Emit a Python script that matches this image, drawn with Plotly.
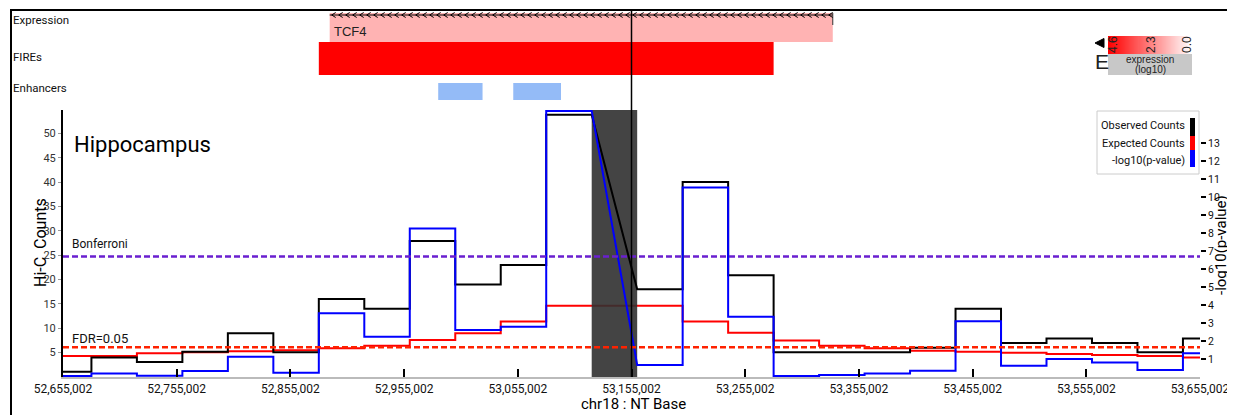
import numpy as np
import plotly.graph_objects as go

# ---------------- data ----------------
BIN_SIZE = 40000
bin_starts = [52640000, 52680000, 52720000, 52760000, 52800000, 52840000, 52880000,
              52920000, 52960000, 53000000, 53040000, 53080000, 53120000, 53160000,
              53200000, 53240000, 53280000, 53320000, 53360000, 53400000, 53440000,
              53480000, 53520000, 53560000, 53600000, 53640000]
observed = [1.1, 4.0, 3.1, 5.2, 9.0, 5.1, 16.0, 14.0, 27.9, 19.0, 23.0, 53.8, None,
            18.0, 40.0, 20.9, 5.1, 5.1, 5.1, 6.0, 14.0, 7.0, 7.9, 7.0, 5.1, 7.9]
expected = [4.3, 4.3, 4.9, 5.1, 5.3, 5.5, 5.9, 6.4, 7.6, 9.0, 11.4, 14.6, 14.6,
            14.6, 11.4, 9.1, 7.5, 6.4, 5.9, 5.4, 5.2, 5.0, 4.7, 4.5, 4.3, 4.0]
neg_log10_p = [0.05, 0.2, 0.07, 0.33, 1.13, 0.24, 3.54, 2.24, 8.26, 2.61, 2.8, 14.8, None,
               0.67, 10.54, 3.35, 0.06, 0.11, 0.2, 0.35, 3.1, 0.63, 1.0, 0.8, 0.39, 1.32]
anchor_bin = [53120000, 53160000]
focus_position = 53155002
bonferroni_threshold = 6.7
fdr_threshold = 1.65

x_ticks = [52655002, 52755002, 52855002, 52955002, 53055002, 53155002,
           53255002, 53355002, 53455002, 53555002, 53655002]
left_ticks = [5, 10, 15, 20, 25, 30, 35, 40, 45, 50]
right_ticks = list(range(1, 14))

gene_name = "TCF4"
gene_span = [52889562, 53332018]
fire_span = [52880000, 53280000]
enhancers = [[52985000, 53024000], [53051000, 53093000]]
expr_scale_labels = ["4.6", "2.3", "0.0"]
expr_scale_max = 4.6

X_RANGE = [52655002, 53655002]
Y_LEFT_MAX = 54.8
Y_RIGHT_MAX = 14.85

# ---------------- layout helpers (page pixel -> paper) ----------------
OFF = 8                      # page body margin
W, H = 1235 - OFF, 415 - OFF
PLOT_L, PLOT_R, PLOT_B = 63, 1200, 377   # page pixels of plot area
ML = PLOT_L - OFF
MR = W - (PLOT_R - OFF)
MB = H - (PLOT_B - OFF)
PLOT_W = PLOT_R - PLOT_L
PAPER_H = PLOT_B - OFF


def px(p):
    return (p - PLOT_L) / PLOT_W


def py(p):
    return (PLOT_B - p) / PAPER_H


MAIN_TOP = py(110)

NARROW = "Liberation Sans Narrow, Roboto, sans-serif"
SANS = "Liberation Sans, Arial, sans-serif"


def steps(vals):
    xs, ys = [], []
    for s, v in zip(bin_starts, vals):
        if v is None:
            continue
        xs += [s, s + BIN_SIZE]
        ys += [v, v]
    return xs, ys


fig = go.Figure()

ex, ey = steps(expected)
fig.add_trace(go.Scatter(x=ex, y=ey, mode="lines", line=dict(color="#ff0000", width=2),
                         yaxis="y", showlegend=False, hoverinfo="skip"))
fig.add_trace(go.Scatter(x=[anchor_bin[0], anchor_bin[1], anchor_bin[1], anchor_bin[0], anchor_bin[0]],
                         y=[0, 0, Y_LEFT_MAX, Y_LEFT_MAX, 0], mode="lines", fill="toself",
                         fillcolor="rgba(48,48,48,0.9)", line=dict(width=0),
                         yaxis="y", showlegend=False, hoverinfo="skip"))
ox, oy = steps(observed)
fig.add_trace(go.Scatter(x=ox, y=oy, mode="lines", line=dict(color="#000000", width=2),
                         yaxis="y", showlegend=False, hoverinfo="skip"))
bx, by = steps(neg_log10_p)
fig.add_trace(go.Scatter(x=bx, y=by, mode="lines", line=dict(color="#0000ff", width=2),
                         yaxis="y2", showlegend=False, hoverinfo="skip"))
fig.add_trace(go.Scatter(x=X_RANGE, y=[bonferroni_threshold] * 2, mode="lines",
                         line=dict(color="#6a1fd0", width=2.5, dash="6px,3px"),
                         yaxis="y2", showlegend=False, hoverinfo="skip"))
fig.add_trace(go.Scatter(x=X_RANGE, y=[fdr_threshold] * 2, mode="lines",
                         line=dict(color="#ff2200", width=2.5, dash="6px,3px"),
                         yaxis="y2", showlegend=False, hoverinfo="skip"))

# expression colour scale (legend gradient)
grad = np.linspace(expr_scale_max, 0, 80)
fig.add_trace(go.Heatmap(z=[grad], x=list(range(len(grad))), y=[0],
                         colorscale=[[0, "#ffffff"], [1, "#ff0000"]], zmin=0, zmax=expr_scale_max,
                         showscale=False, xaxis="x3", yaxis="y3", hoverinfo="skip"))

shapes = []
annotations = []

# outer frame
shapes.append(dict(type="rect", xref="paper", yref="paper", x0=px(11), x1=px(1230),
                   y0=py(440), y1=py(10), line=dict(color="black", width=2)))

# gene track
shapes.append(dict(type="rect", xref="x", yref="paper", x0=gene_span[0], x1=gene_span[1],
                   y0=py(42), y1=py(13), fillcolor="#ffb3b3", line=dict(width=0), layer="below"))
shapes.append(dict(type="line", xref="x", yref="paper", x0=gene_span[0], x1=gene_span[1],
                   y0=py(15), y1=py(15), line=dict(color="black", width=1)))
shapes.append(dict(type="line", xref="x", yref="paper", x0=gene_span[1], x1=gene_span[1],
                   y0=py(13), y1=py(25), line=dict(color="#333333", width=1)))
bp_per_px = (X_RANGE[1] - X_RANGE[0]) / PLOT_W
path = ""
c = gene_span[0] + 2 * bp_per_px
while c + 4 * bp_per_px < gene_span[1]:
    path += "M{:.0f},{:.5f} L{:.0f},{:.5f} L{:.0f},{:.5f} ".format(
        c + 4 * bp_per_px, py(12.5), c, py(15), c + 4 * bp_per_px, py(17.5))
    c += 7 * bp_per_px
shapes.append(dict(type="path", xref="x", yref="paper", path=path,
                   line=dict(color="black", width=1)))
annotations.append(dict(x=gene_span[0] + 2 * bp_per_px, y=py(31), xref="x", yref="paper",
                        text=gene_name, showarrow=False, xanchor="left", yanchor="middle",
                        font=dict(family=SANS, size=13, color="#222222")))

# FIREs
shapes.append(dict(type="rect", xref="x", yref="paper", x0=fire_span[0], x1=fire_span[1],
                   y0=py(75), y1=py(42), fillcolor="#ff0000", line=dict(width=0)))
# enhancers
for e0, e1 in enhancers:
    shapes.append(dict(type="rect", xref="x", yref="paper", x0=e0, x1=e1,
                       y0=py(100), y1=py(83), fillcolor="#94bbf7", line=dict(width=0)))

# focus line
shapes.append(dict(type="line", xref="x", yref="paper", x0=focus_position, x1=focus_position,
                   y0=0, y1=py(11), line=dict(color="black", width=1.5), layer="above"))

for txt, yy in [("Expression", 20), ("FIREs", 57), ("Enhancers", 88)]:
    annotations.append(dict(x=px(11), y=py(yy), xref="paper", yref="paper", text=txt,
                            showarrow=False, xanchor="left", yanchor="middle",
                            font=dict(family=NARROW, size=11.5, color="#111111")))

# expression scale box
shapes.append(dict(type="rect", xref="paper", yref="paper", x0=px(1108), x1=px(1192),
                   y0=py(75), y1=py(54), fillcolor="#c8c8c8", line=dict(width=0)))
shapes.append(dict(type="path", xref="paper", yref="paper",
                   path="M{},{} L{},{} L{},{} Z".format(px(1095), py(43), px(1104), py(38.5), px(1104), py(47.5)),
                   fillcolor="black", line=dict(color="black", width=1)))
annotations.append(dict(x=px(1102), y=py(61), xref="paper", yref="paper", text="E",
                        showarrow=False, xanchor="center", yanchor="middle",
                        font=dict(family=SANS, size=21, color="#222222")))
for lab, xx in zip(expr_scale_labels, [1113, 1151, 1187]):
    annotations.append(dict(x=px(xx), y=py(45), xref="paper", yref="paper", text=lab,
                            showarrow=False, textangle=-90, xanchor="center", yanchor="middle",
                            font=dict(family=SANS, size=12, color="#222222")))
annotations.append(dict(x=px(1150), y=py(60), xref="paper", yref="paper", text="expression",
                        showarrow=False, xanchor="center", yanchor="middle",
                        font=dict(family=SANS, size=10, color="#222222")))
annotations.append(dict(x=px(1150), y=py(69.5), xref="paper", yref="paper", text="(log10)",
                        showarrow=False, xanchor="center", yanchor="middle",
                        font=dict(family=SANS, size=10, color="#222222")))

# legend box
shapes.append(dict(type="rect", xref="paper", yref="paper", x0=px(1097), x1=px(1199),
                   y0=py(174), y1=py(111), fillcolor="white", line=dict(color="#cccccc", width=1)))
for txt, yy, col, s0, s1 in [("Observed Counts", 126, "#000000", 118, 136),
                             ("Expected Counts", 143.5, "#ff0000", 136, 150),
                             ("-log10(p-value)", 160.5, "#0000ff", 150, 167)]:
    annotations.append(dict(x=px(1187), y=py(yy), xref="paper", yref="paper", text=txt,
                            showarrow=False, xanchor="right", yanchor="middle",
                            font=dict(family=NARROW, size=11, color="#111111")))
    shapes.append(dict(type="rect", xref="paper", yref="paper", x0=px(1190), x1=px(1195),
                       y0=py(s1), y1=py(s0), fillcolor=col, line=dict(width=0)))

# in-plot texts
annotations.append(dict(x=px(72), y=py(144), xref="paper", yref="paper", text="Hippocampus",
                        showarrow=False, xanchor="left", yanchor="middle",
                        font=dict(family=NARROW, size=22, color="#000000")))
annotations.append(dict(x=px(70), y=py(244), xref="paper", yref="paper", text="Bonferroni",
                        showarrow=False, xanchor="left", yanchor="middle",
                        font=dict(family=NARROW, size=12, color="#111111")))
annotations.append(dict(x=px(70), y=py(338), xref="paper", yref="paper", text="FDR=0.05",
                        showarrow=False, xanchor="left", yanchor="middle",
                        font=dict(family=NARROW, size=13, color="#111111")))

# axis titles
annotations.append(dict(x=px(40), y=py(243), xref="paper", yref="paper", text="Hi-C  Counts",
                        showarrow=False, textangle=-90, xanchor="center", yanchor="middle",
                        font=dict(family=NARROW, size=16, color="#000000")))
annotations.append(dict(x=px(1221), y=py(245), xref="paper", yref="paper", text="-log10(p-value)",
                        showarrow=False, textangle=-90, xanchor="center", yanchor="middle",
                        font=dict(family=NARROW, size=15, color="#000000")))
annotations.append(dict(x=px(633), y=py(404), xref="paper", yref="paper", text="chr18 : NT Base",
                        showarrow=False, xanchor="center", yanchor="middle",
                        font=dict(family=NARROW, size=15, color="#000000")))

fig.update_layout(
    width=W, height=H,
    margin=dict(l=ML, r=MR, t=0, b=MB, pad=0),
    paper_bgcolor="white", plot_bgcolor="white",
    showlegend=False,
    xaxis=dict(range=X_RANGE, showgrid=False, zeroline=False, showline=True,
               linecolor="#bbbbbb", linewidth=1.5, ticks="inside", ticklen=8, tickwidth=2,
               tickcolor="black", tickvals=x_ticks, ticktext=[f"{v:,}" for v in x_ticks],
               tickfont=dict(family=NARROW, size=12, color="#111111"), anchor="y"),
    yaxis=dict(domain=[0, MAIN_TOP], range=[0, Y_LEFT_MAX], showgrid=False, zeroline=False,
               showline=True, linecolor="black", linewidth=2, ticks="outside", ticklen=3,
               tickwidth=1, tickcolor="#999999", tickvals=left_ticks,
               tickfont=dict(family=NARROW, size=11, color="#333333")),
    yaxis2=dict(domain=[0, MAIN_TOP], range=[0, Y_RIGHT_MAX], overlaying="y", side="right",
                showgrid=False, zeroline=False, showline=False, ticks="outside", ticklen=5,
                tickwidth=2, tickcolor="black", tickvals=right_ticks,
                tickfont=dict(family=NARROW, size=10.5, color="#111111")),
    xaxis3=dict(domain=[px(1108), px(1192)], anchor="y3", visible=False, fixedrange=True),
    yaxis3=dict(domain=[py(54), py(36)], anchor="x3", visible=False, fixedrange=True),
    shapes=shapes,
    annotations=annotations,
)

fig.write_html("out.html")
